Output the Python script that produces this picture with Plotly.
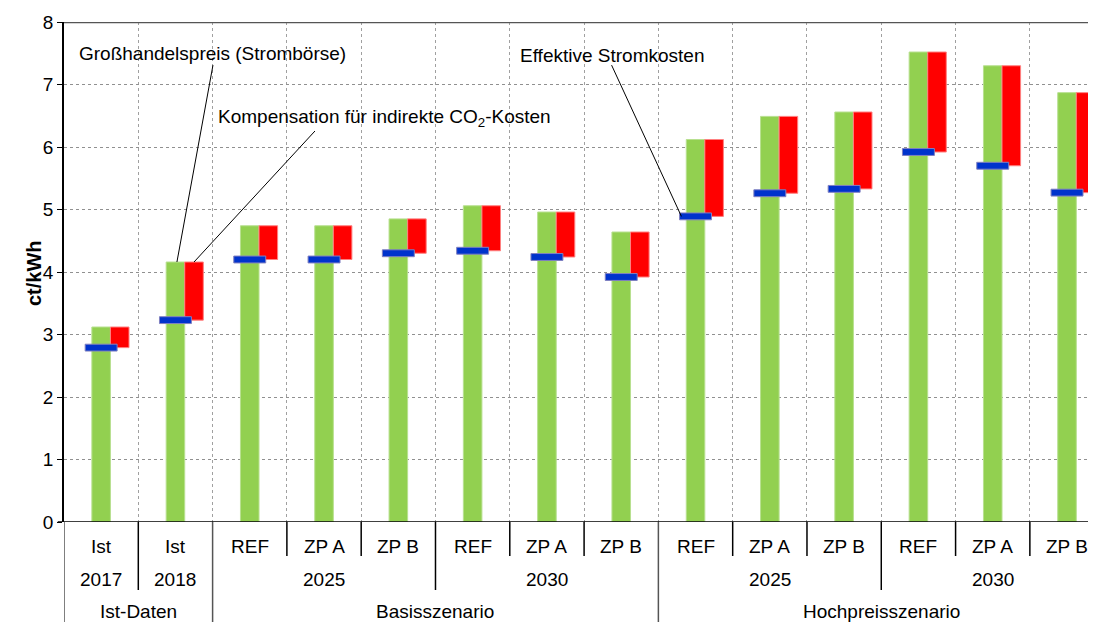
import plotly.graph_objects as go

# ---- data ----
variants = ["Ist", "Ist", "REF", "ZP A", "ZP B", "REF", "ZP A", "ZP B",
            "REF", "ZP A", "ZP B", "REF", "ZP A", "ZP B"]
years = ["2017", "2018", "2025", "2030", "2025", "2030"]
year_spans = [(0, 0), (1, 1), (2, 4), (5, 7), (8, 10), (11, 13)]
scenarios = ["Ist-Daten", "Basisszenario", "Hochpreisszenario"]
scenario_spans = [(0, 1), (2, 7), (8, 13)]
wholesale = [3.12, 4.16, 4.74, 4.74, 4.85, 5.06, 4.96, 4.64,
             6.12, 6.49, 6.56, 7.52, 7.30, 6.87]
effective = [2.79, 3.23, 4.20, 4.20, 4.30, 4.34, 4.24, 3.92,
             4.89, 5.26, 5.33, 5.92, 5.70, 5.27]
y_ticks = [0, 1, 2, 3, 4, 5, 6, 7, 8]

FONT = "Liberation Sans, Arial, sans-serif"
FS = 19
idx = list(range(len(variants)))
compensation = [w - e for w, e in zip(wholesale, effective)]
marker_h = 0.11

fig = go.Figure()
fig.add_trace(go.Bar(x=idx, y=wholesale, width=0.25, offset=-0.125,
                     marker=dict(color="#92D050", line=dict(color="#B8E090", width=1)),
                     name="Großhandelspreis", hoverinfo="y"))
fig.add_trace(go.Bar(x=idx, y=compensation, base=effective, width=0.25, offset=0.125,
                     marker=dict(color="#FF0000", line=dict(color="#FF8080", width=1)),
                     name="Kompensation", hoverinfo="y"))
fig.add_trace(go.Bar(x=idx, y=[marker_h] * len(idx),
                     base=[e - marker_h / 2 for e in effective],
                     width=0.43, offset=-0.215,
                     marker=dict(color="#0033CC", line=dict(color="#8080C0", width=1)),
                     name="Effektive Stromkosten", hoverinfo="skip"))

n = len(variants)
# page body has an 8px margin: figure spans 8..1096 x 8..622
fig.update_layout(
    width=1088, height=614,
    margin=dict(l=56, r=0, t=14, b=100),
    paper_bgcolor="white", plot_bgcolor="white",
    barmode="overlay", showlegend=False,
    font=dict(family=FONT, size=FS, color="black"),
    xaxis=dict(range=[-0.5, n - 0.61], tickvals=[i + 0.5 for i in range(n - 1)],
               showticklabels=False, ticks="", showgrid=True, gridcolor="#A0A0A0",
               griddash="dot", gridwidth=1, zeroline=False, showline=False),
    yaxis=dict(range=[0, 8], tickvals=y_ticks, ticks="outside", ticklen=5,
               tickcolor="black", showgrid=True, gridcolor="#909090", griddash="dot",
               gridwidth=1, showline=True, linecolor="black", linewidth=1.5,
               zeroline=False, tickfont=dict(size=FS, family=FONT)),
)

shapes = []
shapes.append(dict(type="line", xref="paper", yref="y", x0=0, x1=1, y0=8, y1=8,
                   line=dict(color="#555555", width=2.5)))
shapes.append(dict(type="line", xref="paper", yref="y", x0=-0.006, x1=1, y0=0, y1=0,
                   line=dict(color="black", width=1.5)))

def px2paper(py):
    return (522 - py) / 500

row1_end = px2paper(556)
row2_end = px2paper(590)
row3_end = px2paper(622)

for i in range(n - 1):
    b = i + 0.5
    end = row1_end
    for s, e in year_spans:
        if e == i:
            end = row2_end
    for s, e in scenario_spans:
        if e == i:
            end = row3_end
    col = "#555555" if end == row3_end else "black"
    shapes.append(dict(type="line", xref="x", yref="paper", x0=b, x1=b, y0=0, y1=end,
                       line=dict(color=col, width=1.5)))
shapes.append(dict(type="line", xref="x", yref="paper", x0=-0.5, x1=-0.5, y0=0, y1=row3_end,
                   line=dict(color="#555555", width=1.5)))

# leader lines
shapes.append(dict(type="line", xref="x", yref="y", x0=1.505, y0=7.31,
                   x1=1 + 0.02, y1=wholesale[1], line=dict(color="black", width=1)))
shapes.append(dict(type="line", xref="x", yref="y", x0=2.878, y0=6.256,
                   x1=1 + 0.25, y1=wholesale[1], line=dict(color="black", width=1)))
shapes.append(dict(type="line", xref="x", yref="y", x0=6.87, y0=7.31,
                   x1=8 - 0.19, y1=effective[8], line=dict(color="black", width=1)))

annotations = []
for i, v in enumerate(variants):
    annotations.append(dict(x=i, y=px2paper(546), xref="x", yref="paper", text=v,
                            showarrow=False, yanchor="middle", font=dict(size=FS)))
for yr, (s, e) in zip(years, year_spans):
    annotations.append(dict(x=(s + e) / 2, y=px2paper(579), xref="x", yref="paper", text=yr,
                            showarrow=False, yanchor="middle", font=dict(size=FS)))
for sc, (s, e) in zip(scenarios, scenario_spans):
    annotations.append(dict(x=(s + e) / 2, y=px2paper(611), xref="x", yref="paper", text=sc,
                            showarrow=False, yanchor="middle", font=dict(size=FS)))

annotations.append(dict(x=1.499, y=7.504, xref="x", yref="y",
                        text="Großhandelspreis (Strombörse)", showarrow=False,
                        yanchor="middle", font=dict(size=FS)))
annotations.append(dict(x=3.82, y=6.464, xref="x", yref="y",
                        text="Kompensation für indirekte CO<sub>2</sub>-Kosten", showarrow=False,
                        yanchor="middle", font=dict(size=FS)))
annotations.append(dict(x=6.869, y=7.472, xref="x", yref="y",
                        text="Effektive Stromkosten", showarrow=False,
                        yanchor="middle", font=dict(size=FS)))
annotations.append(dict(x=(21 - 64) / 1032, y=0.498, xref="paper", yref="paper",
                        text="<b>ct/kWh</b>", textangle=-90, showarrow=False,
                        yanchor="middle", font=dict(size=20)))

fig.update_layout(shapes=shapes, annotations=annotations)
fig.write_html("out.html")
